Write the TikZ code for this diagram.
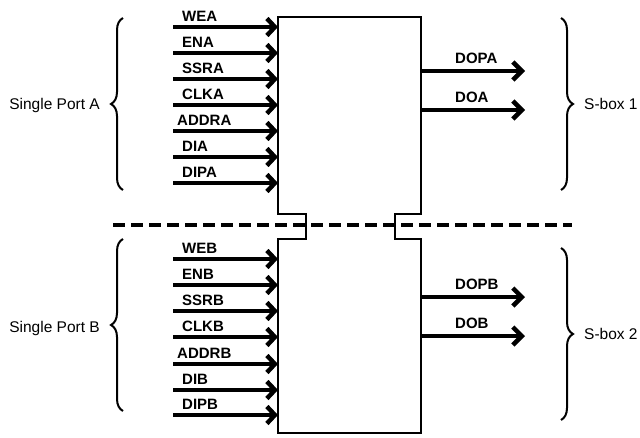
\documentclass[tikz,border=0pt]{standalone}
\usepackage{fontspec}
\setmainfont{Liberation Sans}
\usetikzlibrary{arrows.meta,decorations.pathreplacing}
\begin{document}
\begin{tikzpicture}[x=1pt,y=-1pt,
  sig/.style={line width=4.5pt,-{Straight Barb[length=8pt,width=17pt]}},
  outsig/.style={line width=4.5pt,-{Straight Barb[length=9pt,width=18pt]}},
  lbl/.style={anchor=base west,inner sep=0pt,font=\fontsize{15}{18}\selectfont\bfseries},
  side/.style={inner sep=0pt,font=\fontsize{15.5}{18}\selectfont},
  bracestyle/.style={line width=2pt,decorate,decoration={brace,amplitude=12pt}},
  boxline/.style={line width=2pt},
  divider/.style={line width=4pt,dash pattern=on 12pt off 6pt}]
\useasboundingbox (0,0) rectangle (640,437);
% memory block outline with notches
\draw[boxline] (278,17) -- (421,17) -- (421,214) -- (395,214) -- (395,239) -- (421,239)
  -- (421,433) -- (278,433) -- (278,239) -- (306,239) -- (306,214) -- (278,214) -- cycle;
% divider
\coordinate (dl) at (113,225);
\coordinate (dr) at (572,225);
\draw[divider] (dl) -- (dr);
% port A inputs
\foreach \n/\y/\lx in {WEA/27/182,ENA/53/182,SSRA/79/182,CLKA/105/182,ADDRA/131/177,DIA/157/182,DIPA/183/182}{
  \coordinate (\n-s) at (173,\y);
  \coordinate (\n-e) at (278,\y);
  \draw[sig] (\n-s) -- (\n-e);
  \node[lbl] (\n-l) at (\lx,\y-5.5) {\n};
}
% port B inputs
\foreach \n/\y/\lx in {WEB/259/182,ENB/285/182,SSRB/311/182,CLKB/337/182,ADDRB/364/177,DIB/390/182,DIPB/415/182}{
  \coordinate (\n-s) at (173,\y);
  \coordinate (\n-e) at (278,\y);
  \draw[sig] (\n-s) -- (\n-e);
  \node[lbl] (\n-l) at (\lx,\y-5.5) {\n};
}
% outputs
\foreach \n/\y in {DOPA/71,DOA/110,DOPB/297,DOB/336}{
  \coordinate (\n-s) at (421,\y);
  \coordinate (\n-e) at (525,\y);
  \draw[outsig] (\n-s) -- (\n-e);
  \node[lbl] (\n-l) at (455,\y-8) {\n};
}
% braces
\coordinate (bA1) at (123,190); \coordinate (bA2) at (123,18);
\draw[bracestyle] (bA1) -- (bA2);
\coordinate (bB1) at (123,411); \coordinate (bB2) at (123,239);
\draw[bracestyle] (bB1) -- (bB2);
\coordinate (b11) at (561,18); \coordinate (b12) at (561,190);
\draw[bracestyle] (b11) -- (b12);
\coordinate (b21) at (561,248); \coordinate (b22) at (561,420);
\draw[bracestyle] (b21) -- (b22);
% side labels
\node[side,anchor=base east] (pa) at (100,109.5) {Single Port A};
\node[side,anchor=base east] (pb) at (100,332.5) {Single Port B};
\node[side,anchor=base west] (s1) at (584,109.5) {S-box 1};
\node[side,anchor=base west] (s2) at (584,339.5) {S-box 2};
\end{tikzpicture}
\end{document}
